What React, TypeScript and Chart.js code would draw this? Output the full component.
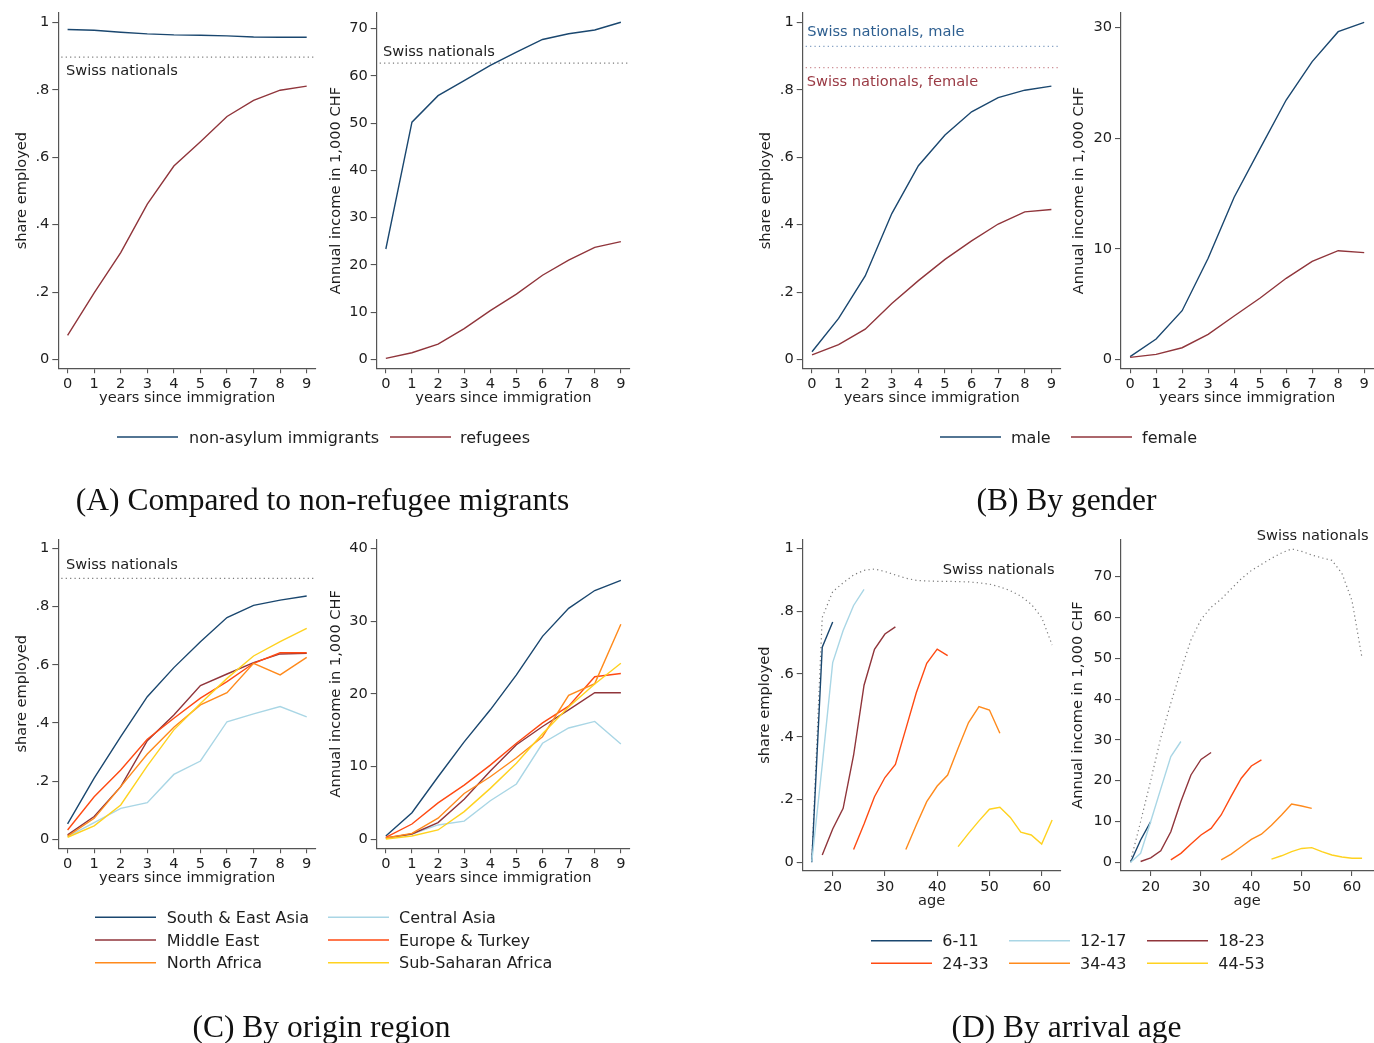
import React, { useEffect, useRef } from "react";
import { Chart, registerables } from "chart.js";

Chart.register(...registerables);

// ---------- styling ----------
const FONT_FAMILY = "DejaVu Sans";
const FONT_SIZE = 14.6;
const INK = "#1e1e1e";
const AXIS = "#555555";
const DOT = [1.2, 3.2];

const NAVY = "#1a476f";
const MAROON = "#90353b";
const LIGHT_BLUE = "#a9d6e5";
const RED_ORANGE = "#ff4a12";
const ORANGE = "#ff8a1c";
const GOLD = "#ffd21f";
const SWISS_GRAY = "#7a7a7a";
const SWISS_MALE = "#7f9cc0";
const SWISS_FEMALE = "#c9878e";
const NOTE_MALE = "#2e5f90";
const NOTE_FEMALE = "#9a3a44";

// ---------- axes ----------
const years = [0, 1, 2, 3, 4, 5, 6, 7, 8, 9];
const yearTickLabels = ["0", "1", "2", "3", "4", "5", "6", "7", "8", "9"];
const shareTicks = [0, 0.2, 0.4, 0.6, 0.8, 1];
const shareTickLabels = ["0", ".2", ".4", ".6", ".8", "1"];
const incomeTicksA = [0, 10, 20, 30, 40, 50, 60, 70];
const incomeTicksB = [0, 10, 20, 30];
const incomeTicksC = [0, 10, 20, 30, 40];
const incomeTicksD = [0, 10, 20, 30, 40, 50, 60, 70];
const ageTicks = [20, 30, 40, 50, 60];

// ---------- (A) refugees vs non-asylum immigrants ----------
const groupNamesA = ["non-asylum immigrants", "refugees"];
const shareNonAsylum = [0.979, 0.977, 0.971, 0.966, 0.963, 0.962, 0.96, 0.957, 0.956, 0.956];
const shareRefugees = [0.072, 0.198, 0.317, 0.461, 0.574, 0.646, 0.721, 0.769, 0.799, 0.811];
const incomeNonAsylum = [23.35, 50.2, 55.8, 59.0, 62.2, 65.0, 67.7, 68.9, 69.7, 71.35];
const incomeRefugees = [0.2, 1.4, 3.2, 6.5, 10.3, 13.8, 17.8, 21.0, 23.7, 24.9];
const swissShare = 0.897;
const swissIncome = 62.7;

// ---------- (B) by gender ----------
const groupNamesB = ["male", "female"];
const shareMale = [0.023, 0.122, 0.248, 0.433, 0.575, 0.666, 0.735, 0.777, 0.799, 0.811];
const shareFemale = [0.014, 0.044, 0.09, 0.166, 0.234, 0.297, 0.352, 0.402, 0.438, 0.445];
const incomeMale = [0.24, 1.84, 4.4, 9.14, 14.66, 19.09, 23.46, 26.93, 29.64, 30.49];
const incomeFemale = [0.18, 0.45, 1.05, 2.26, 3.92, 5.55, 7.33, 8.87, 9.83, 9.65];
const swissShareMale = 0.929;
const swissShareFemale = 0.866;

// ---------- (C) by origin region ----------
const regionNames = [
  "South & East Asia",
  "Central Asia",
  "Middle East",
  "Europe & Turkey",
  "North Africa",
  "Sub-Saharan Africa",
];
const regionColors = [NAVY, LIGHT_BLUE, MAROON, RED_ORANGE, ORANGE, GOLD];
const shareSouthEastAsia = [0.053, 0.21, 0.353, 0.49, 0.59, 0.679, 0.762, 0.804, 0.822, 0.836];
const shareCentralAsia = [0.009, 0.057, 0.106, 0.126, 0.223, 0.269, 0.404, 0.431, 0.456, 0.421];
const shareMiddleEast = [0.015, 0.078, 0.181, 0.339, 0.427, 0.528, 0.568, 0.607, 0.637, 0.639];
const shareEuropeTurkey = [0.032, 0.146, 0.238, 0.344, 0.416, 0.485, 0.542, 0.605, 0.641, 0.641];
const shareNorthAfrica = [0.011, 0.072, 0.181, 0.293, 0.385, 0.462, 0.504, 0.605, 0.565, 0.625];
const shareSubSaharan = [0.007, 0.046, 0.118, 0.252, 0.376, 0.467, 0.553, 0.63, 0.679, 0.725];
const incomeSouthEastAsia = [0.45, 3.66, 8.6, 13.4, 17.8, 22.6, 27.9, 31.75, 34.2, 35.6];
const incomeCentralAsia = [0.14, 0.73, 1.97, 2.5, 5.3, 7.6, 13.2, 15.3, 16.2, 13.1];
const incomeMiddleEast = [0.18, 0.73, 2.3, 5.5, 9.4, 13.0, 15.5, 17.8, 20.15, 20.15];
const incomeEuropeTurkey = [0.27, 2.1, 5.0, 7.45, 10.2, 13.2, 16.0, 18.3, 22.35, 22.8];
const incomeNorthAfrica = [0.18, 0.82, 2.9, 6.3, 8.6, 11.2, 14.1, 19.8, 21.4, 29.55];
const incomeSubSaharan = [0.04, 0.45, 1.28, 3.8, 7.0, 10.45, 14.5, 18.2, 21.35, 24.2];

// ---------- (D) by arrival age ----------
const arrivalGroups = ["6-11", "12-17", "18-23", "24-33", "34-43", "44-53"];
const arrivalColors = [NAVY, LIGHT_BLUE, MAROON, RED_ORANGE, ORANGE, GOLD];
const ages6to11 = [16, 18, 20];
const ages12to17 = [16, 18, 20, 22, 24, 26];
const ages18to23 = [18, 20, 22, 24, 26, 28, 30, 32];
const ages24to33 = [24, 26, 28, 30, 32, 34, 36, 38, 40, 42];
const ages34to43 = [34, 36, 38, 40, 42, 44, 46, 48, 50, 52];
const ages44to53 = [44, 46, 48, 50, 52, 54, 56, 58, 60, 62];
const share6to11 = [0.0, 0.685, 0.765];
const share12to17 = [0.002, 0.31, 0.636, 0.738, 0.818, 0.869];
const share18to23 = [0.023, 0.106, 0.172, 0.341, 0.564, 0.678, 0.727, 0.75];
const share24to33 = [0.041, 0.122, 0.209, 0.27, 0.312, 0.425, 0.54, 0.634, 0.679, 0.658];
const share34to43 = [0.041, 0.119, 0.193, 0.243, 0.278, 0.363, 0.445, 0.496, 0.485, 0.411];
const share44to53 = [0.05, 0.092, 0.132, 0.169, 0.175, 0.143, 0.096, 0.087, 0.058, 0.135];
const income6to11 = [0.0, 5.46, 9.95];
const income12to17 = [0.0, 2.2, 10.0, 18.0, 25.9, 29.6];
const income18to23 = [0.2, 1.1, 2.8, 7.5, 14.9, 21.4, 25.2, 26.9];
const income24to33 = [0.6, 2.2, 4.5, 6.7, 8.3, 11.6, 16.2, 20.6, 23.6, 25.1];
const income34to43 = [0.6, 2.0, 3.8, 5.6, 6.9, 9.1, 11.6, 14.3, 13.8, 13.2];
const income44to53 = [0.8, 1.6, 2.6, 3.4, 3.6, 2.6, 1.8, 1.3, 1.0, 1.0];
const swissAges = [16, 18, 20, 22, 24, 26, 28, 30, 32, 34, 36, 38, 40, 42, 44, 46, 48, 50, 52, 54, 56, 58, 60, 62];
const swissShareByAge = [
  0.01, 0.78, 0.862, 0.89, 0.915, 0.93, 0.934, 0.926, 0.915, 0.905, 0.898, 0.896,
  0.895, 0.895, 0.894, 0.893, 0.89, 0.886, 0.877, 0.865, 0.848, 0.822, 0.78, 0.692,
];
const swissIncomeByAge = [
  0.3, 10, 20, 30.5, 39, 47, 54.5, 59.5, 62.5, 64.5, 67, 69.5,
  71.5, 73, 74.5, 75.8, 76.8, 76.2, 75.3, 74.6, 74.0, 70.8, 64.1, 50,
];

const captions = [
  "(A) Compared to non-refugee migrants",
  "(B) By gender",
  "(C) By origin region",
  "(D) By arrival age",
];

// ---------- plot specification ----------
type Box = { x: number; y: number; w: number; h: number };
type Area = { l: number; t: number; r: number; b: number };
type Series = { x: number[]; y: number[]; color: string; dash?: number[]; width?: number };
type RefLine = { value: number; color: string };
type Note = { text: string; x: number; y: number; color: string };

interface PlotSpec {
  box: Box;
  area: Area;
  yTitleX: number;
  xTitleY: number;
  xMin: number;
  xMax: number;
  xTicks: number[];
  xLabels: string[];
  xTitle: string;
  yMin: number;
  yMax: number;
  yTicks: number[];
  yLabels: string[];
  yTitle: string;
  series: Series[];
  refLines: RefLine[];
  notes: Note[];
}

const SHARE_TITLE = "share employed";
const INCOME_TITLE = "Annual income in 1,000 CHF";
const YEARS_TITLE = "years since immigration";
const AGE_TITLE = "age";

const numLabels = (ticks: number[]) => ticks.map((t) => String(t));

const yearAxis = {
  xMin: -0.35,
  xMax: 9.35,
  xTicks: years,
  xLabels: yearTickLabels,
  xTitle: YEARS_TITLE,
};

const plots: PlotSpec[] = [
  // (A) share employed
  {
    box: { x: 0, y: 0, w: 325, h: 420 },
    area: { l: 58.3, t: 13, r: 316, b: 368.3 },
    yTitleX: 22.7,
    xTitleY: 398.3,
    ...yearAxis,
    yMin: -0.026,
    yMax: 1.028,
    yTicks: shareTicks,
    yLabels: shareTickLabels,
    yTitle: SHARE_TITLE,
    series: [
      { x: years, y: shareNonAsylum, color: NAVY },
      { x: years, y: shareRefugees, color: MAROON },
    ],
    refLines: [{ value: swissShare, color: SWISS_GRAY }],
    notes: [{ text: "Swiss nationals", x: -0.06, y: 0.855, color: INK }],
  },
  // (A) income
  {
    box: { x: 325, y: 0, w: 325, h: 420 },
    area: { l: 376.7, t: 13, r: 630, b: 368.3 },
    yTitleX: 336,
    xTitleY: 398.3,
    ...yearAxis,
    yMin: -1.9,
    yMax: 73.3,
    yTicks: incomeTicksA,
    yLabels: numLabels(incomeTicksA),
    yTitle: INCOME_TITLE,
    series: [
      { x: years, y: incomeNonAsylum, color: NAVY },
      { x: years, y: incomeRefugees, color: MAROON },
    ],
    refLines: [{ value: swissIncome, color: SWISS_GRAY }],
    notes: [{ text: "Swiss nationals", x: -0.11, y: 65.0, color: INK }],
  },
  // (B) share employed
  {
    box: { x: 745, y: 0, w: 320, h: 420 },
    area: { l: 802.7, t: 13, r: 1060.7, b: 368.3 },
    yTitleX: 766,
    xTitleY: 398.3,
    ...yearAxis,
    yMin: -0.026,
    yMax: 1.028,
    yTicks: shareTicks,
    yLabels: shareTickLabels,
    yTitle: SHARE_TITLE,
    series: [
      { x: years, y: shareMale, color: NAVY },
      { x: years, y: shareFemale, color: MAROON },
    ],
    refLines: [
      { value: swissShareMale, color: SWISS_MALE },
      { value: swissShareFemale, color: SWISS_FEMALE },
    ],
    notes: [
      { text: "Swiss nationals, male", x: -0.18, y: 0.97, color: NOTE_MALE },
      { text: "Swiss nationals, female", x: -0.2, y: 0.824, color: NOTE_FEMALE },
    ],
  },
  // (B) income
  {
    box: { x: 1065, y: 0, w: 309, h: 420 },
    area: { l: 1121, t: 13, r: 1373.3, b: 368.3 },
    yTitleX: 1079.3,
    xTitleY: 398.3,
    ...yearAxis,
    yMin: -0.81,
    yMax: 31.33,
    yTicks: incomeTicksB,
    yLabels: numLabels(incomeTicksB),
    yTitle: INCOME_TITLE,
    series: [
      { x: years, y: incomeMale, color: NAVY },
      { x: years, y: incomeFemale, color: MAROON },
    ],
    refLines: [],
    notes: [],
  },
  // (C) share employed
  {
    box: { x: 0, y: 520, w: 325, h: 400 },
    area: { l: 58.3, t: 539.3, r: 316, b: 848.3 },
    yTitleX: 22.7,
    xTitleY: 878.3,
    ...yearAxis,
    yMin: -0.031,
    yMax: 1.031,
    yTicks: shareTicks,
    yLabels: shareTickLabels,
    yTitle: SHARE_TITLE,
    series: [
      shareSouthEastAsia,
      shareCentralAsia,
      shareMiddleEast,
      shareEuropeTurkey,
      shareNorthAfrica,
      shareSubSaharan,
    ].map((y, i) => ({ x: years, y, color: regionColors[i] })),
    refLines: [{ value: swissShare, color: SWISS_GRAY }],
    notes: [{ text: "Swiss nationals", x: -0.06, y: 0.943, color: INK }],
  },
  // (C) income
  {
    box: { x: 325, y: 520, w: 325, h: 400 },
    area: { l: 376.7, t: 539.3, r: 630, b: 848.3 },
    yTitleX: 336,
    xTitleY: 878.3,
    ...yearAxis,
    yMin: -1.24,
    yMax: 41.24,
    yTicks: incomeTicksC,
    yLabels: numLabels(incomeTicksC),
    yTitle: INCOME_TITLE,
    series: [
      incomeSouthEastAsia,
      incomeCentralAsia,
      incomeMiddleEast,
      incomeEuropeTurkey,
      incomeNorthAfrica,
      incomeSubSaharan,
    ].map((y, i) => ({ x: years, y, color: regionColors[i] })),
    refLines: [],
    notes: [],
  },
  // (D) share employed by age
  {
    box: { x: 745, y: 520, w: 320, h: 400 },
    area: { l: 802.7, t: 539.3, r: 1060.7, b: 871 },
    yTitleX: 765,
    xTitleY: 901.3,
    xMin: 14.26,
    xMax: 63.64,
    xTicks: ageTicks,
    xLabels: numLabels(ageTicks),
    xTitle: AGE_TITLE,
    yMin: -0.0277,
    yMax: 1.0287,
    yTicks: shareTicks,
    yLabels: shareTickLabels,
    yTitle: SHARE_TITLE,
    series: [
      { x: swissAges, y: swissShareByAge, color: SWISS_GRAY, dash: DOT, width: 1.2 },
      ...[
        [ages6to11, share6to11],
        [ages12to17, share12to17],
        [ages18to23, share18to23],
        [ages24to33, share24to33],
        [ages34to43, share34to43],
        [ages44to53, share44to53],
      ].map(([x, y], i) => ({ x, y, color: arrivalColors[i] })),
    ],
    refLines: [],
    notes: [{ text: "Swiss nationals", x: 41.05, y: 0.931, color: INK }],
  },
  // (D) income by age
  {
    box: { x: 1065, y: 520, w: 309, h: 400 },
    area: { l: 1121, t: 539.3, r: 1373.3, b: 871 },
    yTitleX: 1078.3,
    xTitleY: 901.3,
    xMin: 14.1,
    xMax: 64.23,
    xTicks: ageTicks,
    xLabels: numLabels(ageTicks),
    xTitle: AGE_TITLE,
    yMin: -2.13,
    yMax: 79.15,
    yTicks: incomeTicksD,
    yLabels: numLabels(incomeTicksD),
    yTitle: INCOME_TITLE,
    series: [
      { x: swissAges, y: swissIncomeByAge, color: SWISS_GRAY, dash: DOT, width: 1.2 },
      ...[
        [ages6to11, income6to11],
        [ages12to17, income12to17],
        [ages18to23, income18to23],
        [ages24to33, income24to33],
        [ages34to43, income34to43],
        [ages44to53, income44to53],
      ].map(([x, y], i) => ({ x, y, color: arrivalColors[i] })),
    ],
    refLines: [],
    notes: [{ text: "Swiss nationals", x: 41.06, y: 79.96, color: INK }],
  },
];

// Reference lines (behind the data) and text notes (on top)
function annotate(s: PlotSpec) {
  return {
    id: "annotate",
    beforeDatasetsDraw(chart: any) {
      const { ctx, chartArea, scales } = chart;
      for (const rl of s.refLines) {
        const y = scales.y.getPixelForValue(rl.value);
        ctx.save();
        ctx.strokeStyle = rl.color;
        ctx.lineWidth = 1.2;
        ctx.setLineDash(DOT);
        ctx.beginPath();
        ctx.moveTo(chartArea.left + 3, y);
        ctx.lineTo(chartArea.right, y);
        ctx.stroke();
        ctx.restore();
      }
    },
    afterDatasetsDraw(chart: any) {
      const { ctx, scales } = chart;
      ctx.save();
      ctx.font = `${FONT_SIZE}px "${FONT_FAMILY}"`;
      ctx.textAlign = "left";
      ctx.textBaseline = "middle";
      for (const n of s.notes) {
        ctx.fillStyle = n.color;
        ctx.fillText(n.text, scales.x.getPixelForValue(n.x), scales.y.getPixelForValue(n.y));
      }
      ctx.restore();
    },
  };
}

function buildConfig(s: PlotSpec): any {
  const lh = FONT_SIZE * 1.2;
  const font = { family: FONT_FAMILY, size: FONT_SIZE };
  const n = s.series.length;
  return {
    type: "line",
    data: {
      datasets: s.series.map((ser, i) => ({
        data: ser.x.map((x, j) => ({ x, y: ser.y[j] })),
        borderColor: ser.color,
        borderWidth: ser.width ?? 1.4,
        borderDash: ser.dash ?? [],
        pointRadius: 0,
        tension: 0,
        fill: false,
        order: n - i,
      })),
    },
    options: {
      responsive: false,
      animation: false,
      events: [],
      layout: {
        padding: {
          left: 0,
          top: s.area.t - s.box.y,
          right: s.box.x + s.box.w - s.area.r,
          bottom: 0,
        },
      },
      plugins: { legend: { display: false }, tooltip: { enabled: false } },
      scales: {
        x: {
          type: "linear",
          bounds: "data",
          min: s.xMin,
          max: s.xMax,
          afterBuildTicks: (sc: any) => {
            sc.ticks = s.xTicks.map((v) => ({ value: v }));
          },
          afterFit: (sc: any) => {
            sc.height = s.box.y + s.box.h - s.area.b;
          },
          grid: { drawOnChartArea: false, drawTicks: true, tickLength: 5, color: AXIS, lineWidth: 1.1 },
          border: { display: true, color: AXIS, width: 1.2 },
          ticks: {
            autoSkip: false,
            maxRotation: 0,
            minRotation: 0,
            color: INK,
            font,
            padding: 2,
            callback: (_v: any, i: number) => s.xLabels[i],
          },
          title: {
            display: true,
            text: s.xTitle,
            color: INK,
            font,
            padding: { top: 0, bottom: s.box.y + s.box.h - s.xTitleY - lh / 2 },
          },
        },
        y: {
          type: "linear",
          bounds: "data",
          min: s.yMin,
          max: s.yMax,
          afterBuildTicks: (sc: any) => {
            sc.ticks = s.yTicks.map((v) => ({ value: v }));
          },
          afterFit: (sc: any) => {
            sc.width = s.area.l - s.box.x;
          },
          grid: { drawOnChartArea: false, drawTicks: true, tickLength: 6, color: AXIS, lineWidth: 1.1 },
          border: { display: true, color: AXIS, width: 1.2 },
          ticks: {
            autoSkip: false,
            color: INK,
            font,
            padding: 3,
            callback: (_v: any, i: number) => s.yLabels[i],
          },
          title: {
            display: true,
            text: s.yTitle,
            color: INK,
            font,
            padding: { top: s.yTitleX - s.box.x - lh / 2, bottom: 0 },
          },
        },
      },
    },
    plugins: [annotate(s)],
  };
}

function Plot({ spec }: { spec: PlotSpec }) {
  const ref = useRef<HTMLCanvasElement>(null);
  useEffect(() => {
    if (!ref.current) return;
    const chart = new Chart(ref.current, buildConfig(spec));
    return () => chart.destroy();
  }, [spec]);
  return (
    <canvas
      ref={ref}
      width={spec.box.w}
      height={spec.box.h}
      style={{
        position: "absolute",
        left: spec.box.x,
        top: spec.box.y,
        width: spec.box.w,
        height: spec.box.h,
      }}
    />
  );
}

// ---------- legends ----------
type LegendEntry = { text: string; color: string; lineX: number; textX: number; y: number };

const legendEntries: LegendEntry[] = [
  { text: groupNamesA[0], color: NAVY, lineX: 117, textX: 189, y: 437 },
  { text: groupNamesA[1], color: MAROON, lineX: 390, textX: 460, y: 437 },
  { text: groupNamesB[0], color: NAVY, lineX: 940, textX: 1011, y: 437 },
  { text: groupNamesB[1], color: MAROON, lineX: 1071, textX: 1142, y: 437 },
  ...regionNames.map((text, i) => ({
    text,
    color: regionColors[i],
    lineX: i % 2 === 0 ? 95 : 328,
    textX: i % 2 === 0 ? 166.7 : 399,
    y: [917.3, 940, 962.7][Math.floor(i / 2)],
  })),
  ...arrivalGroups.map((text, i) => ({
    text,
    color: arrivalColors[i],
    lineX: [871, 1009, 1147][i % 3],
    textX: [942.3, 1080, 1218.3][i % 3],
    y: [940.7, 963.3][Math.floor(i / 3)],
  })),
];

const captionCenters = [
  { x: 322.5, y: 500 },
  { x: 1066.5, y: 500 },
  { x: 321.5, y: 1027 },
  { x: 1066.5, y: 1027 },
];

export default function App() {
  return (
    <div
      style={{
        position: "absolute",
        left: 0,
        top: 0,
        width: 1374,
        height: 1043,
        background: "#ffffff",
        overflow: "hidden",
      }}
    >
      {plots.map((p, i) => (
        <Plot key={i} spec={p} />
      ))}
      <svg
        width={1374}
        height={1043}
        style={{ position: "absolute", left: 0, top: 0, pointerEvents: "none" }}
      >
        {legendEntries.map((e, i) => (
          <line
            key={`ll${i}`}
            x1={e.lineX}
            x2={e.lineX + 61}
            y1={e.y}
            y2={e.y}
            stroke={e.color}
            strokeWidth={1.5}
          />
        ))}
      </svg>
      {legendEntries.map((e, i) => (
        <div
          key={`lt${i}`}
          style={{
            position: "absolute",
            left: e.textX,
            top: e.y - 10.5,
            height: 22,
            lineHeight: "22px",
            fontFamily: `"${FONT_FAMILY}"`,
            fontSize: 16,
            color: INK,
            whiteSpace: "nowrap",
          }}
        >
          {e.text}
        </div>
      ))}
      {captions.map((c, i) => (
        <div
          key={`cap${i}`}
          style={{
            position: "absolute",
            left: captionCenters[i].x - 350,
            top: captionCenters[i].y - 20,
            width: 700,
            height: 40,
            lineHeight: "40px",
            textAlign: "center",
            fontFamily: '"Liberation Serif"',
            fontSize: 31.5,
            color: "#111111",
            whiteSpace: "nowrap",
          }}
        >
          {c}
        </div>
      ))}
    </div>
  );
}
